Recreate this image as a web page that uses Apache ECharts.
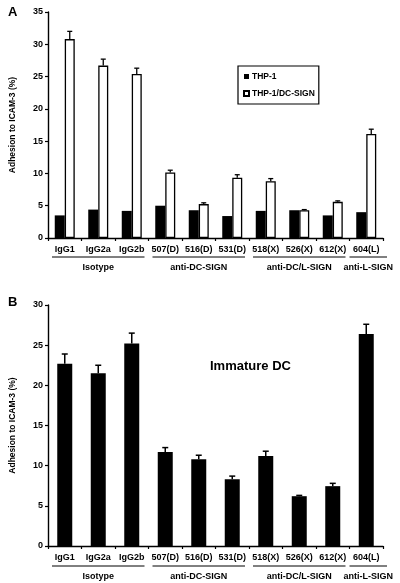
<!DOCTYPE html>
<html>
<head>
<meta charset="utf-8">
<script src="https://cdn.jsdelivr.net/npm/echarts@6/dist/echarts.min.js"></script>
<style>html,body{margin:0;padding:0;background:#fff;}#c{width:400px;height:583px;}</style>
</head>
<body>
<div id="c"></div>
<script>
const categories = ['IgG1','IgG2a','IgG2b','507(D)','516(D)','531(D)','518(X)','526(X)','612(X)','604(L)'];
const groupNames = ['Isotype','anti-DC-SIGN','anti-DC/L-SIGN','anti-L-SIGN'];
const groupSizes = [3,3,3,1];
const thp1 = [3.5,4.4,4.2,5.0,4.3,3.4,4.2,4.3,3.5,4.0];
const thp1DcSign = [30.8,26.7,25.4,10.15,5.25,9.35,8.8,4.3,5.6,16.1];
const thp1DcSignErr = [1.2,1.0,0.9,0.35,0.2,0.45,0.4,0.1,0.15,0.75];
const immatureDC = [22.7,21.5,25.2,11.7,10.8,8.3,11.2,6.2,7.45,26.4];
const immatureDCErr = [1.2,1.0,1.3,0.55,0.5,0.4,0.6,0.1,0.35,1.2];
const yTitle = 'Adhesion to ICAM-3 (%)';

const FONT = "'Liberation Sans', Arial, sans-serif";
const chart = echarts.init(document.getElementById('c'), null, {renderer:'canvas'});

function errSeries(xi, yi, vals, errs, off, cap, lw) {
  return {
    type:'custom', xAxisIndex:xi, yAxisIndex:yi, z:10, silent:true,
    data: vals.map((v,i)=>[i, v, errs[i]]),
    renderItem: function(params, api){
      const x = api.value(0), v = api.value(1), e = api.value(2);
      const p0 = api.coord([x, v]), p1 = api.coord([x, v+e]);
      const cx = p0[0] + off;
      return {type:'group', children:[
        {type:'line', shape:{x1:cx, y1:p0[1], x2:cx, y2:p1[1]}, style:{stroke:'#000', lineWidth:lw}},
        {type:'line', shape:{x1:cx-cap, y1:p1[1], x2:cx+cap, y2:p1[1]}, style:{stroke:'#000', lineWidth:lw}}
      ]};
    }
  };
}

const axisLineStyle = {lineStyle:{color:'#000', width:1.4}};
function xAxisCfg(gi){
  return {type:'category', gridIndex:gi, data:categories, boundaryGap:true,
    axisLine:axisLineStyle, axisTick:{show:true, length:3, lineStyle:{color:'#000', width:1.2}},
    axisLabel:{interval:0, margin:7, color:'#000', fontSize:9, fontWeight:'bold', fontFamily:FONT}};
}
function yAxisCfg(gi, max){
  return {type:'value', gridIndex:gi, min:0, max:max, interval:5,
    name:yTitle, nameLocation:'middle', nameGap:31, nameRotate:90,
    nameTextStyle:{color:'#000', fontSize:8.5, fontWeight:'bold', fontFamily:FONT},
    axisLine:{show:true, lineStyle:{color:'#000', width:1.4}},
    axisTick:{show:true, length:3, lineStyle:{color:'#000', width:1.2}},
    splitLine:{show:false},
    axisLabel:{margin:5, color:'#000', fontSize:9, fontWeight:'bold', fontFamily:FONT}};
}

chart.setOption({
  animation:false,
  backgroundColor:'#fff',
  textStyle:{fontFamily:FONT},
  title:[
    {text:'A', left:3, top:1, textStyle:{fontSize:13, fontWeight:'bold', color:'#000', fontFamily:FONT}},
    {text:'B', left:3, top:291, textStyle:{fontSize:13, fontWeight:'bold', color:'#000', fontFamily:FONT}},
    {text:'Immature DC', left:205, top:355, textStyle:{fontSize:13, fontWeight:'bold', color:'#000', fontFamily:FONT}}
  ],
  legend:{
    data:['THP-1','THP-1/DC-SIGN'], orient:'vertical', left:238, top:66,
    borderColor:'#000', borderWidth:1.2, padding:[6,4,6,5], itemGap:8,
    itemWidth:5, itemHeight:5, icon:'rect',
    textStyle:{fontSize:8.5, fontWeight:'bold', color:'#000', fontFamily:FONT, padding:[0,0,0,-2]}
  },
  grid:[
    {left:47, top:12, width:336, height:226},
    {left:48, top:305, width:335, height:241}
  ],
  xAxis:[xAxisCfg(0), xAxisCfg(1)],
  yAxis:[yAxisCfg(0,35), yAxisCfg(1,30)],
  series:[
    {name:'THP-1', type:'bar', xAxisIndex:0, yAxisIndex:0, data:thp1, barWidth:10, barGap:'0%',
      itemStyle:{color:'#000'}},
    {name:'THP-1/DC-SIGN', type:'bar', xAxisIndex:0, yAxisIndex:0, data:thp1DcSign, barWidth:10, barGap:'0%',
      itemStyle:{color:'#fff', borderColor:'#000', borderWidth:1.3}},
    errSeries(0,0,thp1DcSign,thp1DcSignErr,5,2.5,1.3),
    {name:'Immature DC', type:'bar', xAxisIndex:1, yAxisIndex:1, data:immatureDC, barWidth:15,
      itemStyle:{color:'#000'}},
    errSeries(1,1,immatureDC,immatureDCErr,0,3,1.5)
  ]
});

// group underlines and labels, positioned through the category axes
function groupGraphics(xi, lineY, textY){
  const els = [];
  const c0 = chart.convertToPixel({xAxisIndex:xi}, categories[0]);
  const c1 = chart.convertToPixel({xAxisIndex:xi}, categories[1]);
  const bw = c1 - c0;
  let start = 0;
  groupSizes.forEach((n, g)=>{
    const a = chart.convertToPixel({xAxisIndex:xi}, categories[start]) - bw/2;
    const b = chart.convertToPixel({xAxisIndex:xi}, categories[start+n-1]) + bw/2;
    const inset = n > 1 ? 4 : 0;
    const x2 = n > 1 ? b - inset : b + 4;
    els.push({type:'line', shape:{x1:a+inset, y1:lineY, x2:x2, y2:lineY}, style:{stroke:'#000', lineWidth:1}});
    els.push({type:'text', x:(a+x2+inset)/2, y:textY, style:{text:groupNames[g], fill:'#000', fontSize:9, fontWeight:'bold', fontFamily:FONT, textAlign:'center', textVerticalAlign:'middle'}});
    start += n;
  });
  return els;
}
chart.setOption({graphic: groupGraphics(0, 257, 268).concat(groupGraphics(1, 566, 577))});
</script>
</body>
</html>
